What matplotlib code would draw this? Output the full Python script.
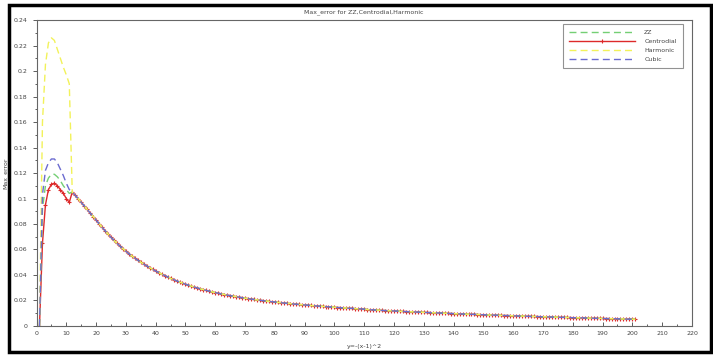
import matplotlib
matplotlib.use("Agg")
import matplotlib.pyplot as plt
from matplotlib.lines import Line2D
from matplotlib.patches import Rectangle
from matplotlib.ticker import MultipleLocator, FuncFormatter

# x runs 1..201, the four methods differ only for x = 1..11
x_head = list(range(1, 12))
zz_head = [0.0, 0.092, 0.110, 0.116, 0.119, 0.119, 0.117, 0.114, 0.110, 0.107, 0.104]
centro_head = [0.0, 0.065, 0.095, 0.107, 0.111, 0.112, 0.110, 0.107, 0.104, 0.100, 0.097]
harm_head = [0.0, 0.160, 0.205, 0.222, 0.226, 0.224, 0.217, 0.210, 0.203, 0.197, 0.190]
cubic_head = [0.0, 0.103, 0.122, 0.128, 0.131, 0.131, 0.128, 0.123, 0.118, 0.112, 0.107]

# common tail, x = 12..201
x_tail = list(range(12, 202))
tail = [
    0.1050, 0.1025, 0.0998, 0.0970, 0.0942, 0.0914, 0.0886, 0.0858, 0.0830,
    0.0802, 0.0774, 0.0747, 0.0721, 0.0696, 0.0672, 0.0649, 0.0627, 0.0606, 0.0586,
    0.0567, 0.0549, 0.0532, 0.0516, 0.0500, 0.0485, 0.0471, 0.0457, 0.0444, 0.0431,
    0.0419, 0.0407, 0.0396, 0.0385, 0.0374, 0.0364, 0.0354, 0.0345, 0.0336, 0.0328,
    0.0320, 0.0312, 0.0305, 0.0298, 0.0291, 0.0285, 0.0279, 0.0273, 0.0267, 0.0262,
    0.0257, 0.0252, 0.0247, 0.0242, 0.0238, 0.0234, 0.0230, 0.0226, 0.0222, 0.0218,
    0.0215, 0.0211, 0.0208, 0.0205, 0.0202, 0.0199, 0.0196, 0.0193, 0.0190, 0.0188,
    0.0185, 0.0183, 0.0180, 0.0178, 0.0176, 0.0173, 0.0171, 0.0169, 0.0167, 0.0165,
    0.0163, 0.0161, 0.0159, 0.0157, 0.0155, 0.0154, 0.0152, 0.0150, 0.0149, 0.0147,
    0.0145, 0.0144, 0.0142, 0.0141, 0.0139, 0.0138, 0.0136, 0.0135, 0.0134, 0.0132,
    0.0129, 0.0127, 0.0126, 0.0125, 0.0124, 0.0122, 0.0121, 0.0120, 0.0119, 0.0118,
    0.0117, 0.0115, 0.0114, 0.0113, 0.0112, 0.0111, 0.0110, 0.0109, 0.0108, 0.0107,
    0.0106, 0.0105, 0.0104, 0.0103, 0.0102, 0.0101, 0.0100, 0.0099, 0.0098, 0.0097,
    0.0096, 0.0095, 0.0094, 0.0093, 0.0092, 0.0092, 0.0091, 0.0090, 0.0089, 0.0088,
    0.0087, 0.0086, 0.0086, 0.0085, 0.0084, 0.0083, 0.0082, 0.0082, 0.0081, 0.0080,
    0.0079, 0.0078, 0.0078, 0.0077, 0.0076, 0.0075, 0.0075, 0.0074, 0.0073, 0.0072,
    0.0072, 0.0071, 0.0070, 0.0070, 0.0069, 0.0068, 0.0068, 0.0067, 0.0066, 0.0065,
    0.0065, 0.0064, 0.0064, 0.0063, 0.0062, 0.0062, 0.0061, 0.0060, 0.0060, 0.0059,
    0.0058, 0.0058, 0.0057, 0.0057, 0.0056, 0.0056, 0.0055, 0.0054, 0.0054, 0.0053,
    0.0053,
]

names = ["ZZ", "Centrodial", "Harmonic", "Cubic"]
heads = [zz_head, centro_head, harm_head, cubic_head]
colors = ["#74cf74", "#dd2a2a", "#f2f25a", "#6b6bd0"]

x = x_head + x_tail

fig = plt.figure(figsize=(7.13, 3.58), dpi=100)
ax = fig.add_axes([0.0512, 0.0894, 0.9193, 0.8547])

for name, head, c in zip(names, heads, colors):
    y = head + tail
    if name == "Centrodial":
        ax.plot(x, y, color=c, lw=1.0, marker="+", ms=3, mew=0.8, label=name, zorder=2)
    else:
        ax.plot(x, y, color=c, lw=1.0, ls=(0, (5, 3)), label=name, zorder=3)

ax.set_xlim(0, 220)
ax.set_ylim(0, 0.24)
ax.xaxis.set_major_locator(MultipleLocator(10))
ax.xaxis.set_minor_locator(MultipleLocator(5))
ax.yaxis.set_major_locator(MultipleLocator(0.02))
ax.yaxis.set_minor_locator(MultipleLocator(0.01))
ax.yaxis.set_major_formatter(FuncFormatter(lambda v, p: ("%.2f" % v).rstrip("0").rstrip(".") if v else "0"))
ax.tick_params(axis="x", which="both", direction="in", labelsize=4.5, colors="#444444", length=3, width=0.6)
ax.tick_params(axis="x", which="minor", length=1.5)
ax.tick_params(axis="y", which="both", direction="out", labelsize=4.5, colors="#444444", length=3, width=0.6)
ax.tick_params(axis="y", which="minor", length=1.5)
for s in ax.spines.values():
    s.set_color("#666666")
    s.set_linewidth(0.8)

ax.set_title("Max_error for ZZ,Centrodial,Harmonic", fontsize=4.5, color="#444444", pad=5)
ax.set_xlabel("y=-(x-1)^2", fontsize=4.5, color="#444444", labelpad=6)
ax.set_ylabel("Max_error", fontsize=4.5, color="#444444", labelpad=4)

handles = [
    Line2D([], [], color=colors[0], lw=1.0, ls=(0, (5, 3))),
    Line2D([], [], color=colors[1], lw=1.0, marker="+", ms=3, mew=0.8, markevery=[0, 1, 2]),
    Line2D([], [], color=colors[2], lw=1.0, ls=(0, (5, 3))),
    Line2D([], [], color=colors[3], lw=1.0, ls=(0, (5, 3))),
]
leg = ax.legend(handles, names, loc="upper right", bbox_to_anchor=(0.9863, 0.988),
                fontsize=4.5, frameon=True, fancybox=False, handlelength=10.5,
                borderpad=1.0, labelspacing=0.55, handletextpad=1.5, borderaxespad=0)
leg.get_frame().set_edgecolor("#777777")
leg.get_frame().set_linewidth(0.8)
for t in leg.get_texts():
    t.set_color("#444444")

# black screenshot frame around everything
fig.patches.append(Rectangle((0.012, 0.0168), 0.985, 0.969, transform=fig.transFigure,
                             fill=False, edgecolor="black", lw=2.5))

fig.savefig("out.png", dpi=100)
